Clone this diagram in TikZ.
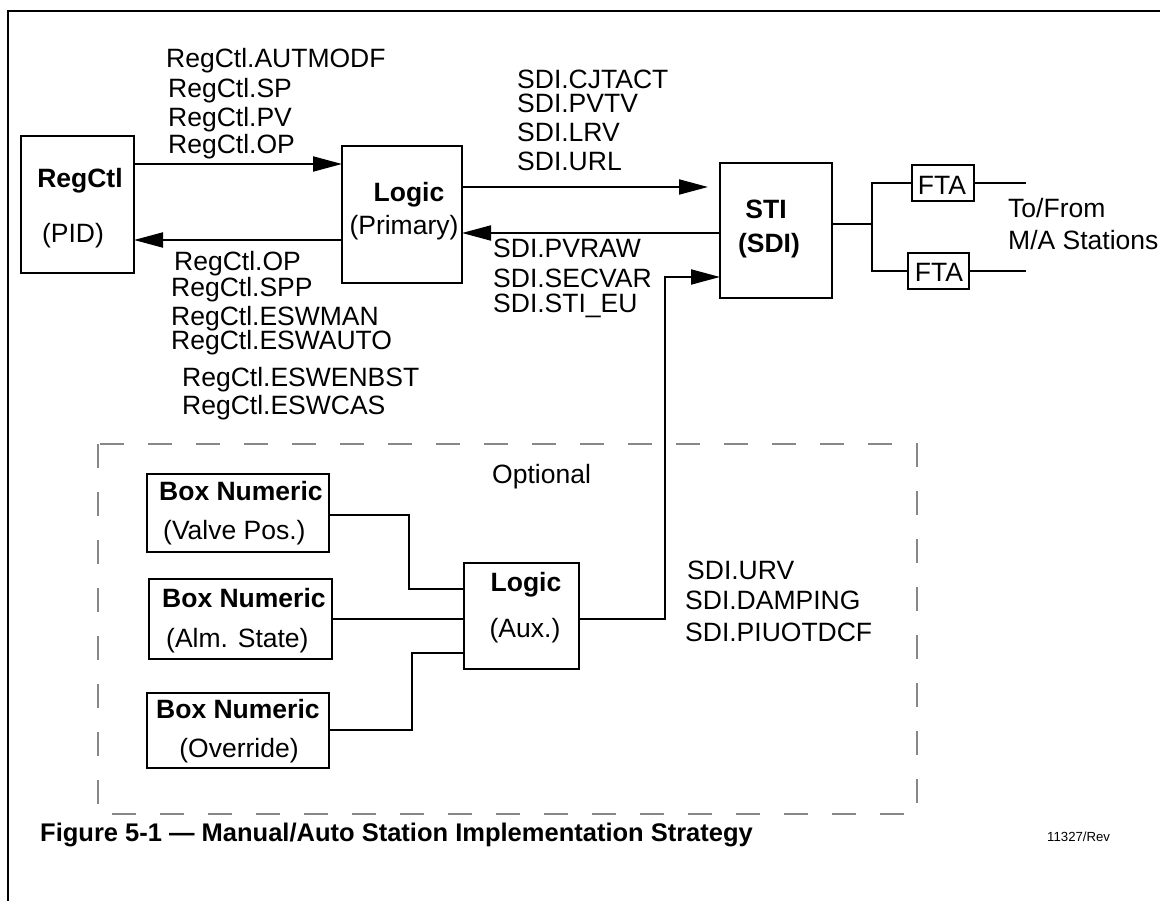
\documentclass[tikz,border=0pt]{standalone}
\usepackage{fontspec}
\setmainfont{Liberation Sans}
\usetikzlibrary{arrows.meta}
\begin{document}
\begin{tikzpicture}[x=1pt,y=-1pt,
  box/.style={draw,line width=2.2pt,inner sep=0pt,outer sep=0pt,rectangle},
  lbl/.style={inner sep=0pt,anchor=base west,font=\fontsize{26.5}{30}\selectfont},
  clbl/.style={inner sep=0pt,anchor=base,font=\fontsize{26.5}{30}\selectfont},
  blbl/.style={inner sep=0pt,anchor=base,font=\fontsize{26.5}{30}\selectfont\bfseries},
  bwlbl/.style={inner sep=0pt,anchor=base west,font=\fontsize{26.5}{30}\selectfont\bfseries},
  wire/.style={line width=2pt},
  arr/.style={line width=2pt,-{Triangle[length=29pt,width=15pt]}},
  optbox/.style={draw=black!47,line width=2pt,dash pattern=on 24pt off 24pt}
]
\useasboundingbox (0,0) rectangle (1160,901);
% frame
\draw[line width=2.5pt] (1160,11) -- (8,11) -- (8,901);
% optional dashed box
\draw[optbox] (98,444) rectangle (917,814);
% boxes
\node[box,minimum width=113pt,minimum height=137pt] (regctl) at (77.5,204.5) {};
\node[box,minimum width=120pt,minimum height=137pt] (logicP) at (402,214.5) {};
\node[box,minimum width=112pt,minimum height=135pt] (sti) at (776,230.5) {};
\node[box,minimum width=62pt,minimum height=36pt] (fta1) at (943,183) {};
\node[box,minimum width=61pt,minimum height=36pt] (fta2) at (938.5,271) {};
\node[box,minimum width=115pt,minimum height=106pt] (logicA) at (521.5,616) {};
\node[box,minimum width=182pt,minimum height=78pt] (bn1) at (238,513) {};
\node[box,minimum width=183pt,minimum height=80pt] (bn2) at (240.5,619) {};
\node[box,minimum width=182pt,minimum height=75pt] (bn3) at (238,730.5) {};
% box texts
\node[blbl] (tregctl) at (80,188) {RegCtl};
\node[clbl] (tpid) at (73,243) {(PID)};
\node[blbl] (tlogicP) at (409,202) {Logic};
\node[clbl] (tprim) at (404,235) {(Primary)};
\node[blbl] (tsti) at (766,219) {STI};
\node[blbl] (tsdi) at (769,253) {(SDI)};
\node[clbl] (tfta1) at (942,195) {FTA};
\node[clbl] (tfta2) at (939,282) {FTA};
\node[blbl] (tlogicA) at (526,591) {Logic};
\node[clbl] (taux) at (525,637) {(Aux.)};
\node[bwlbl] (tbn1) at (159,500) {Box Numeric};
\node[lbl] (tbn1b) at (163,539) {(Valve Pos.)};
\node[bwlbl] (tbn2) at (162,607) {Box Numeric};
\node[lbl] (tbn2b) at (166,647) {(Alm. State)};
\node[bwlbl] (tbn3) at (156,718) {Box Numeric};
\node[clbl] (tbn3b) at (239,757) {(Override)};
% signal labels
\node[lbl] (l1) at (166,68) {RegCtl.AUTMODF};
\node[lbl] (l2) at (168,98) {RegCtl.SP};
\node[lbl] (l3) at (168,127) {RegCtl.PV};
\node[lbl] (l4) at (168,154) {RegCtl.OP};
\node[lbl] (l5) at (174,271) {RegCtl.OP};
\node[lbl] (l6) at (171,297) {RegCtl.SPP};
\node[lbl] (l7) at (171,326) {RegCtl.ESWMAN};
\node[lbl] (l8) at (171,350) {RegCtl.ESWAUTO};
\node[lbl] (l9) at (182,387) {RegCtl.ESWENBST};
\node[lbl] (l10) at (182,414) {RegCtl.ESWCAS};
\node[lbl] (s1) at (517,89) {SDI.CJTACT};
\node[lbl] (s2) at (517,113) {SDI.PVTV};
\node[lbl] (s3) at (517,142) {SDI.LRV};
\node[lbl] (s4) at (517,171) {SDI.URL};
\node[lbl] (s5) at (493,258) {SDI.PVRAW};
\node[lbl] (s6) at (493,288) {SDI.SECVAR};
\node[lbl] (s7) at (493,313) {SDI.STI\_EU};
\node[lbl] (s8) at (687,579) {SDI.URV};
\node[lbl] (s9) at (685,609) {SDI.DAMPING};
\node[lbl] (s10) at (685,641) {SDI.PIUOTDCF};
\node[lbl] (tofrom) at (1008,218) {To/From};
\node[lbl] (mast) at (1008,250) {M/A Stations};
\node[lbl] (opt) at (492,483) {Optional};
% caption
\node[inner sep=0pt,anchor=base west,font=\fontsize{25.5}{28}\selectfont\bfseries] (cap) at (40,841) {Figure 5-1 — Manual/Auto Station Implementation Strategy};
\node[inner sep=0pt,anchor=base west,font=\fontsize{13.2}{15}\selectfont] (rev) at (1047,841) {11327/Rev};
% connectors
\draw[arr] (regctl.east |- 0,164) -- (logicP.west |- 0,164);
\draw[arr] (logicP.west |- 0,240) -- (regctl.east |- 0,240);
\draw[arr,shorten >=12pt] (logicP.east |- 0,187) -- (sti.west |- 0,187);
\draw[arr] (sti.west |- 0,233) -- (logicP.east |- 0,233);
\coordinate (up) at (665,277);
\draw[arr] (logicA.east |- 0,619) -| (up) -- (sti.west |- up);
\coordinate (br) at (872,224);
\draw[wire] (sti.east |- br) -- (br);
\draw[wire] (fta1.west) -| (br) |- (fta2.west);
\coordinate (o1) at (1026,183);
\coordinate (o2) at (1026,271);
\draw[wire] (fta1.east) -- (o1);
\draw[wire] (fta2.east) -- (o2);
\coordinate (k1) at (409,589);
\coordinate (k3) at (412,653);
\draw[wire] (bn1.east |- 0,515) -| (k1) -- (logicA.west |- k1);
\draw[wire] (bn2.east |- 0,619) -- (logicA.west |- 0,619);
\draw[wire] (bn3.east |- 0,730) -| (k3) -- (logicA.west |- k3);
\end{tikzpicture}
\end{document}
